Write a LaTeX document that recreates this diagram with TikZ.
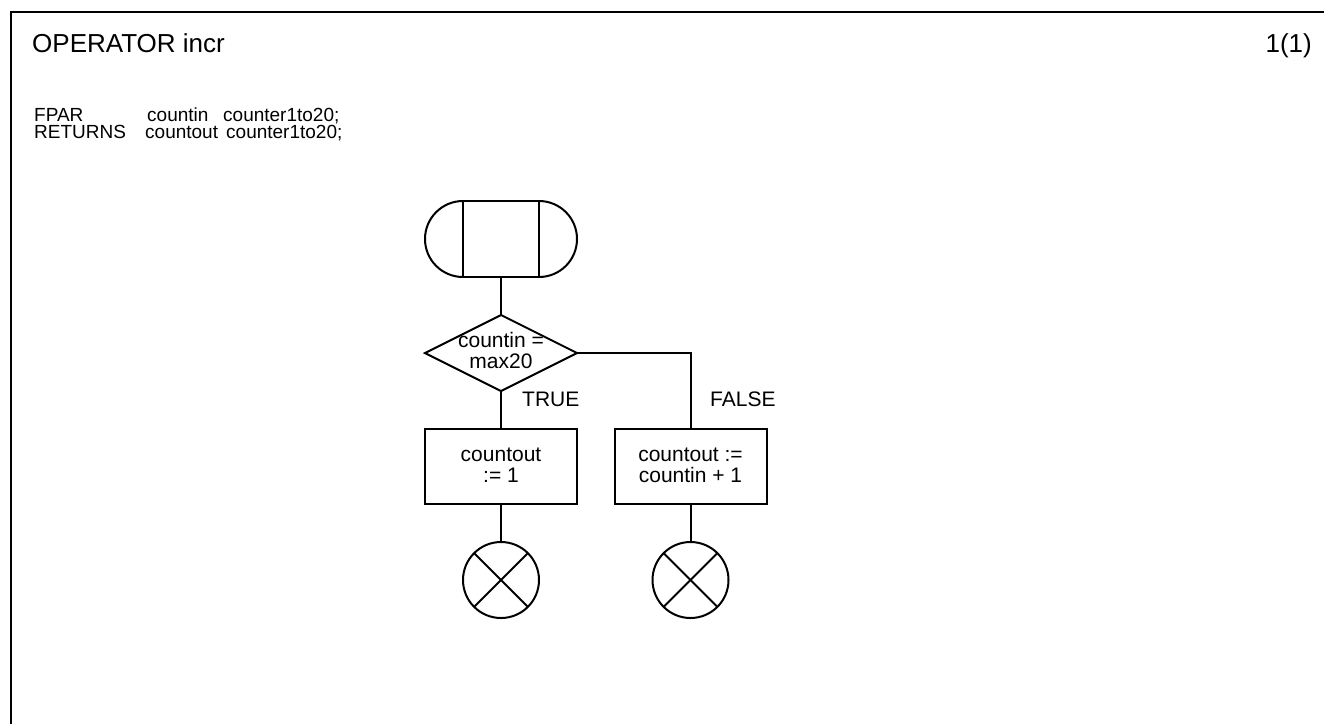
\documentclass[tikz,border=0pt]{standalone}
\usepackage{fontspec}
\setmainfont{Liberation Sans}
\usetikzlibrary{shapes.geometric}
\begin{document}
\begin{tikzpicture}[x=1pt,y=1pt,
  line/.style={line width=2pt, line join=miter},
  sym/.style={draw, line width=2pt, inner sep=0pt, outer sep=0pt},
  txt/.style={inner sep=0pt, anchor=base, font=\fontsize{21}{25}\selectfont},
  hdr/.style={inner sep=0pt, anchor=base west, font=\fontsize{19}{23}\selectfont},
  ttl/.style={inner sep=0pt, font=\fontsize{26}{30}\selectfont}]
\useasboundingbox (0,0) rectangle (1324,-724);
\fill[white] (0,0) rectangle (1324,-724);
% frame
\draw[line] (11,-724) -- (11,-12) -- (1324,-12);
\node[ttl, anchor=base west] (title) at (32,-52) {OPERATOR incr};
\node[ttl, anchor=base east] (page) at (1312,-52) {1(1)};
% header
\node[hdr] (h1) at (34,-121) {FPAR};
\node[hdr] (h2) at (147,-121) {countin};
\node[hdr] (h3) at (223,-121) {counter1to20;};
\node[hdr] (h4) at (34,-138) {RETURNS};
\node[hdr] (h5) at (145,-138) {countout};
\node[hdr] (h6) at (226,-138) {counter1to20;};
% start symbol
\node[sym, rectangle, minimum width=76pt, minimum height=76pt] (start) at (501,-239) {};
\draw[line] (start.north west) arc[start angle=90, end angle=270, radius=38pt];
\draw[line] (start.north east) arc[start angle=90, end angle=-90, radius=38pt];
% decision
\node[sym, diamond, aspect=2, minimum width=152pt, minimum height=76pt] (dec) at (501,-353) {};
\node[txt] (dt1) at (501,-347) {countin =};
\node[txt] (dt2) at (501,-368) {max20};
% tasks
\node[sym, rectangle, minimum width=152pt, minimum height=75pt] (bt) at (501,-466) {};
\node[txt] (bt1) at (501,-461) {countout};
\node[txt] (bt2) at (501,-482) {:= 1};
\node[sym, rectangle, minimum width=152pt, minimum height=75pt] (bf) at (690.5,-466) {};
\node[txt] (bf1) at (690.5,-461) {countout :=};
\node[txt] (bf2) at (690.5,-482) {countin + 1};
% stops
\node[sym, circle, minimum size=76pt] (et) at (501,-580) {};
\node[sym, circle, minimum size=76pt] (ef) at (690.5,-580) {};
\draw[line] (et.north west) -- (et.south east);
\draw[line] (et.north east) -- (et.south west);
\draw[line] (ef.north west) -- (ef.south east);
\draw[line] (ef.north east) -- (ef.south west);
% connectors
\draw[line] (start.south) -- (dec.north);
\draw[line] (dec.south) -- (bt.north);
\draw[line] (dec.east) -| (bf.north);
\draw[line] (bt.south) -- (et.north);
\draw[line] (bf.south) -- (ef.north);
% branch labels
\node[txt, anchor=base west] (ltrue) at (522,-406) {TRUE};
\node[txt, anchor=base west] (lfalse) at (710,-406) {FALSE};
\end{tikzpicture}
\end{document}
